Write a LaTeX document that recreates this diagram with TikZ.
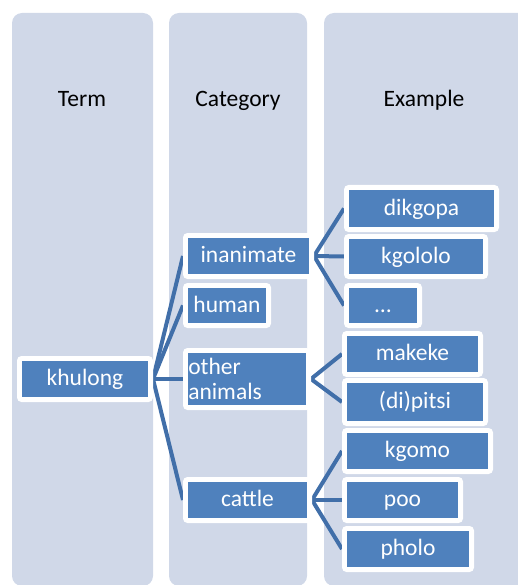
\documentclass[tikz,border=0pt]{standalone}
\usepackage{fontspec}
\setmainfont{Carlito}
\definecolor{colbg}{HTML}{D0D8E8}
\definecolor{boxblue}{HTML}{4F81BD}
\definecolor{linkblue}{HTML}{416FA9}
\pgfdeclarelayer{colslayer}
\pgfdeclarelayer{linkslayer}
\pgfsetlayers{colslayer,linkslayer,main}
\tikzset{
  colbox/.style={fill=colbg, draw=none, rounded corners=10pt},
  hdr/.style={anchor=base, text=black, font=\fontsize{23.5}{25}\selectfont, inner sep=0pt},
  bx/.style={rectangle, fill=boxblue, draw=white, line width=4.8pt, rounded corners=2.5pt, text=white,
    font=\fontsize{23.5}{25}\selectfont, inner sep=0pt, text height=18pt, text depth=4.4pt},
  link/.style={draw=linkblue, line width=4pt}
}
\begin{document}
\begin{tikzpicture}[x=1pt, y=-1pt]
\useasboundingbox (0,0) rectangle (518,585);
\clip (0,0) rectangle (518,585);
% columns
\begin{pgfonlayer}{colslayer}
\path[colbox] (12,13) rectangle (153,586);
\path[colbox] (169,13) rectangle (307,586);
\path[colbox] (324,13) rectangle (530,586);
\end{pgfonlayer}
% headers
\node[hdr] (hterm) at (82,107) {Term};
\node[hdr] (hcat) at (238,107) {Category};
\node[hdr] (hex) at (424,107) {Example};
% nodes
\node[bx, minimum width=131.2pt, minimum height=41.2pt] (khulong) at (85,379) {khulong};
\node[bx, minimum width=126.2pt, minimum height=41.2pt] (inanimate) at (248.5,256) {inanimate};
\node[bx, minimum width=83.2pt, minimum height=40.2pt] (human) at (227,305.5) {human};
\node[bx, minimum width=123.2pt, minimum height=57.2pt, text width=117.5pt, align=left,
  inner xsep=2.85pt, text height=, text depth=] (other) at (247,379) {other\\animals};
\node[bx, minimum width=124.2pt, minimum height=41.2pt] (cattle) at (247.5,500) {cattle};
\node[bx, minimum width=150.2pt, minimum height=42.2pt] (dikgopa) at (421.5,208.5) {dikgopa};
\node[bx, minimum width=139.2pt, minimum height=40.2pt] (kgololo) at (416,256.5) {kgololo};
\node[bx, minimum width=73.2pt, minimum height=40.2pt] (dots) at (383,305.5) {…};
\node[bx, minimum width=136.2pt, minimum height=41.2pt] (makeke) at (412.5,354) {makeke};
\node[bx, minimum width=141.2pt, minimum height=43.2pt] (pitsi) at (415,402) {(di)pitsi};
\node[bx, minimum width=146.2pt, minimum height=41.2pt] (kgomo) at (417.5,451) {kgomo};
\node[bx, minimum width=116.2pt, minimum height=41.2pt] (poo) at (402.5,500) {poo};
\node[bx, minimum width=127.2pt, minimum height=41.2pt] (pholo) at (408,549) {pholo};
% connectors (behind boxes)
\begin{pgfonlayer}{linkslayer}
\foreach \c in {inanimate,human,other,cattle}
  \draw[link] (khulong.east) -- (\c.west);
\foreach \c in {dikgopa,kgololo,dots}
  \draw[link] (inanimate.east) -- (\c.west);
\foreach \c in {makeke,pitsi}
  \draw[link] (other.east) -- (\c.west);
\foreach \c in {kgomo,poo,pholo}
  \draw[link] (cattle.east) -- (\c.west);
\end{pgfonlayer}
\end{tikzpicture}
\end{document}
